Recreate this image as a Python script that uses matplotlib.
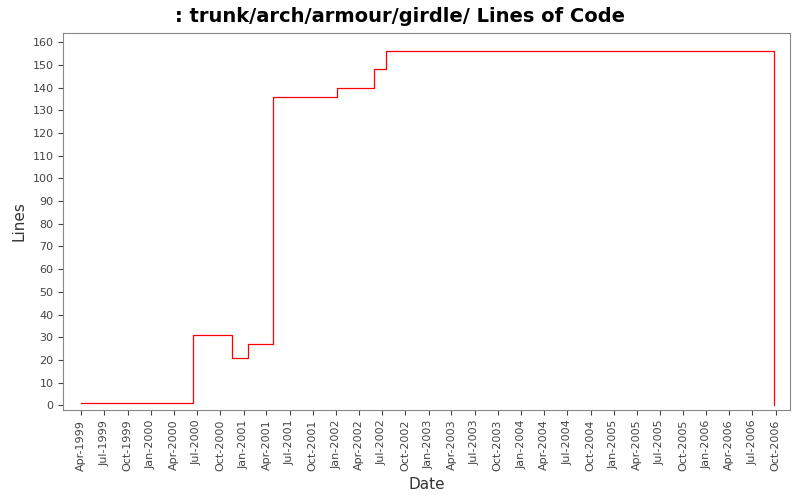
import matplotlib
matplotlib.use("Agg")
import matplotlib.pyplot as plt
import matplotlib.dates as mdates
import pandas as pd

dates = pd.to_datetime(["1999-04-01","2000-06-15","2000-11-15","2001-01-20","2001-04-25",
                        "2002-01-05","2002-05-30","2002-07-18","2006-09-25","2006-09-26"])
lines = [1,31,21,27,136,140,148,156,156,0]

fig = plt.figure(figsize=(8,5), dpi=100)
ax = fig.add_axes([0.079, 0.18, 0.908, 0.754])
ax.step(dates, lines, where="post", color="red", lw=0.9)
ax.set_xlim(pd.Timestamp("1999-01-20"), pd.Timestamp("2006-11-25"))
ax.set_ylim(-2, 164)
ax.set_yticks(range(0,161,10))
ticks = pd.date_range("1999-04-01","2006-10-01",freq="3MS")
ax.set_xticks(ticks)
ax.xaxis.set_major_formatter(mdates.DateFormatter("%b-%Y"))
plt.setp(ax.get_xticklabels(), rotation=90)
ax.tick_params(labelsize=8, colors="#444444")
for s in ax.spines.values():
    s.set_color("#888888")
ax.set_xlabel("Date", fontsize=11, color="#333333")
ax.set_ylabel("Lines", fontsize=11, color="#333333")
fig.suptitle(": trunk/arch/armour/girdle/ Lines of Code", fontsize=14, fontweight="bold", y=0.985)
fig.savefig("out.png")
